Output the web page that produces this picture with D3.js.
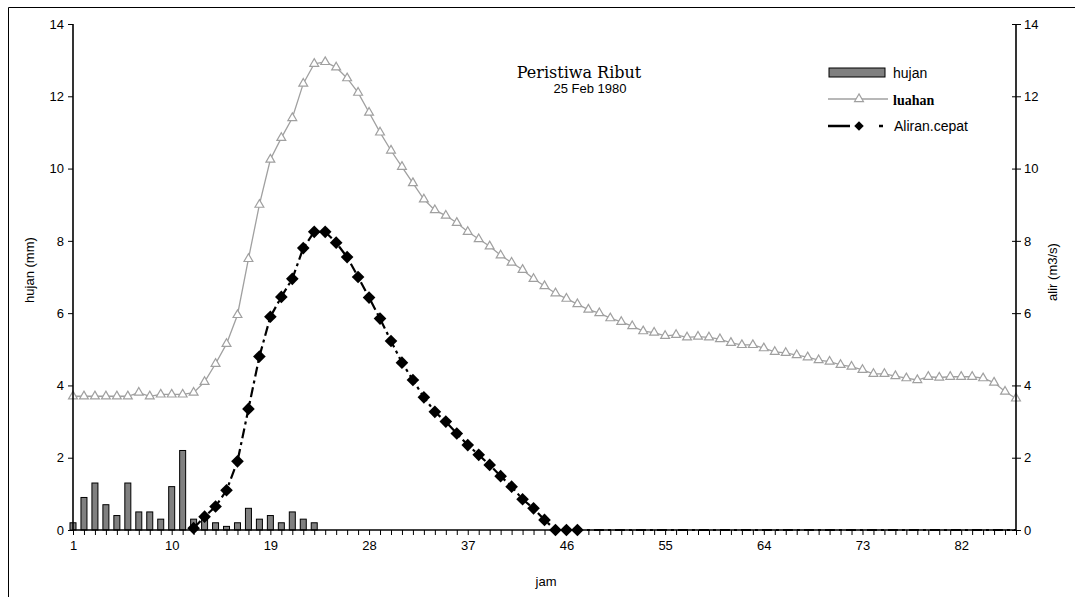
<!DOCTYPE html>
<meta charset="utf-8">
<script src="https://d3js.org/d3.v7.js"></script>
<style>
body { margin: 0; background: white; }
text { font-family: "Liberation Sans", Arial, sans-serif; }
</style>
<div id="chart"></div>
<script>
  // hujan (mm) for jam 1..23, zero afterwards
  var hujan = [0.2,0.9,1.3,0.7,0.4,1.3,0.5,0.5,0.3,1.2,2.2,0.3,0.3,0.2,0.1,0.2,0.6,0.3,0.4,0.2,0.5,0.3,0.2];

  // luahan (m3/s) for jam 1..87
  var luahan = [3.7,3.7,3.7,3.7,3.7,3.7,3.8,3.7,3.75,3.75,3.75,3.8,
    4.1,4.6,5.15,5.95,7.5,9.0,10.25,10.85,11.4,12.35,12.9,12.95,12.8,12.5,12.1,11.55,11.0,10.5,
    10.05,9.6,9.15,8.85,8.7,8.5,8.25,8.05,7.85,7.6,7.4,7.2,6.95,6.75,6.55,6.4,6.25,6.1,6.0,5.86,
    5.76,5.64,5.5,5.46,5.37,5.4,5.33,5.35,5.33,5.28,5.18,5.12,5.12,5.03,4.93,4.9,4.84,4.78,4.7,4.66,
    4.57,4.52,4.43,4.32,4.32,4.26,4.2,4.15,4.24,4.22,4.24,4.24,4.24,4.2,4.08,3.83,3.64];

  // aliran cepat (m3/s) from jam 12 to 87
  var aliranStart = 12;
  var aliranCepat = [0.05,0.37,0.65,1.1,1.9,3.35,4.8,5.9,6.45,6.95,7.8,8.25,8.25,7.95,7.55,7.0,6.43,5.85,5.23,4.63,
    4.15,3.67,3.27,3.0,2.67,2.35,2.08,1.8,1.49,1.2,0.85,0.6,0.28,0,0,0,
    0,0,0,0,0,0,0,0,0,0,0,0,0,0,0,0,0,0,0,0,0,0,0,0,0,0,0,0,0,0,0,0,0,0,0,0,0,0,0,0];
  var aliranMarkersUntil = 47;

  var yTicks = [0,2,4,6,8,10,12,14];
  var xLabelTicks = [1,10,19,28,37,46,55,64,73,82];

  var width = 1075, height = 597;
  var plotLeft = 73, plotRight = 1016, plotTop = 24, plotBottom = 530;

  var jam = d3.range(1, luahan.length + 1);

  var svg = d3.select("#chart").append("svg")
    .attr("width", width)
    .attr("height", height);

  // outer frame
  svg.append("path")
    .attr("d", "M8.5," + height + "V7.5H" + width)
    .attr("fill", "none")
    .attr("stroke", "black")
    .attr("stroke-width", 1);

  var x = d3.scalePoint().domain(jam).range([plotLeft, plotRight]);
  var y = d3.scaleLinear().domain([0, 14]).range([plotBottom, plotTop]);

  // bars
  svg.append("g")
    .selectAll("rect")
    .data(hujan)
    .enter()
    .append("rect")
      .attr("x", (d, i) => x(i + 1) - 3)
      .attr("y", d => y(d))
      .attr("width", 6)
      .attr("height", d => y(0) - y(d))
      .attr("fill", "#808080")
      .attr("stroke", "black")
      .attr("stroke-width", 1);

  // luahan line
  var line = d3.line()
    .x(d => x(d[0]))
    .y(d => y(d[1]));

  var luahanPts = luahan.map((v, i) => [i + 1, v]);
  svg.append("path")
    .datum(luahanPts)
    .attr("d", line)
    .attr("fill", "none")
    .attr("stroke", "#a0a0a0")
    .attr("stroke-width", 1.3);

  var tri = d3.symbol().type(d3.symbolTriangle).size(34);
  svg.append("g")
    .selectAll("path")
    .data(luahanPts)
    .enter()
    .append("path")
      .attr("d", tri)
      .attr("transform", d => "translate(" + x(d[0]) + "," + y(d[1]) + ")")
      .attr("fill", "white")
      .attr("stroke", "#a0a0a0")
      .attr("stroke-width", 1.2);

  // aliran cepat
  var aliranPts = aliranCepat.map((v, i) => [i + aliranStart, v]);
  svg.append("path")
    .datum(aliranPts)
    .attr("d", line)
    .attr("fill", "none")
    .attr("stroke", "black")
    .attr("stroke-width", 2.2)
    .attr("stroke-dasharray", "10,4,3,4");

  var diamond = d3.symbol().type(d3.symbolSquare).size(80);
  svg.append("g")
    .selectAll("path")
    .data(aliranPts.filter(d => d[0] <= aliranMarkersUntil))
    .enter()
    .append("path")
      .attr("d", diamond)
      .attr("transform", d => "translate(" + x(d[0]) + "," + y(d[1]) + ") rotate(45)")
      .attr("fill", "black");

  // axes
  var xAxis = d3.axisBottom(x)
    .tickSize(5)
    .tickFormat(d => xLabelTicks.indexOf(d) >= 0 ? d : "");
  var gx = svg.append("g")
    .attr("transform", "translate(0," + plotBottom + ")")
    .call(xAxis);
  gx.select(".domain").attr("stroke-width", 1.6).attr("d", "M" + plotLeft + ",0H" + plotRight);
  gx.selectAll("text").attr("font-size", 13).attr("dy", "0.9em").attr("fill", "black");

  var gyl = svg.append("g")
    .attr("transform", "translate(" + plotLeft + ",0)")
    .call(d3.axisLeft(y).tickValues(yTicks).tickSize(5).tickPadding(4));
  gyl.select(".domain").attr("stroke-width", 1.6).attr("d", "M0," + plotTop + "V" + plotBottom);
  gyl.selectAll("text").attr("font-size", 13).attr("fill", "black");

  var gyr = svg.append("g")
    .attr("transform", "translate(" + plotRight + ",0)")
    .call(d3.axisRight(y).tickValues(yTicks).tickSize(5).tickPadding(3));
  gyr.select(".domain").attr("stroke-width", 1.6).attr("d", "M0," + plotTop + "V" + plotBottom);
  gyr.selectAll("line").attr("x1", -4);
  gyr.selectAll("text").attr("font-size", 13).attr("fill", "black");

  // axis titles
  svg.append("text")
    .attr("transform", "translate(34,270) rotate(-90)")
    .attr("text-anchor", "middle")
    .attr("font-size", 13)
    .text("hujan (mm)");

  svg.append("text")
    .attr("transform", "translate(1057,272) rotate(-90)")
    .attr("text-anchor", "middle")
    .attr("font-size", 13)
    .text("alir (m3/s)");

  svg.append("text")
    .attr("x", 546)
    .attr("y", 586)
    .attr("text-anchor", "middle")
    .attr("font-size", 13)
    .text("jam");

  // title
  svg.append("text")
    .attr("x", 579)
    .attr("y", 78)
    .attr("text-anchor", "middle")
    .style("font-family", "'DejaVu Serif', serif")
    .attr("font-size", 16)
    .text("Peristiwa Ribut");

  svg.append("text")
    .attr("x", 590)
    .attr("y", 93)
    .attr("text-anchor", "middle")
    .attr("font-size", 13)
    .text("25 Feb 1980");

  // legend
  var lg = svg.append("g");
  lg.append("rect")
    .attr("x", 829).attr("y", 68).attr("width", 56).attr("height", 9)
    .attr("fill", "#808080").attr("stroke", "black").attr("stroke-width", 1);
  lg.append("text").attr("x", 893).attr("y", 78).attr("font-size", 14).text("hujan");

  lg.append("line")
    .attr("x1", 828).attr("x2", 888).attr("y1", 99).attr("y2", 99)
    .attr("stroke", "#a0a0a0").attr("stroke-width", 1.3);
  lg.append("path")
    .attr("d", tri)
    .attr("transform", "translate(859,99)")
    .attr("fill", "white").attr("stroke", "#a0a0a0").attr("stroke-width", 1.2);
  lg.append("text").attr("x", 893).attr("y", 105)
    .style("font-family", "'Liberation Serif', serif")
    .attr("font-weight", "bold")
    .attr("font-size", 14).text("luahan");

  lg.append("line")
    .attr("x1", 828).attr("x2", 883).attr("y1", 126).attr("y2", 126)
    .attr("stroke", "black").attr("stroke-width", 2.4)
    .attr("stroke-dasharray", "22,29,4");
  lg.append("path")
    .attr("d", d3.symbol().type(d3.symbolSquare).size(45))
    .attr("transform", "translate(859,126) rotate(45)")
    .attr("fill", "black");
  lg.append("text").attr("x", 894).attr("y", 131).attr("font-size", 14).text("Aliran.cepat");
</script>
</html>
